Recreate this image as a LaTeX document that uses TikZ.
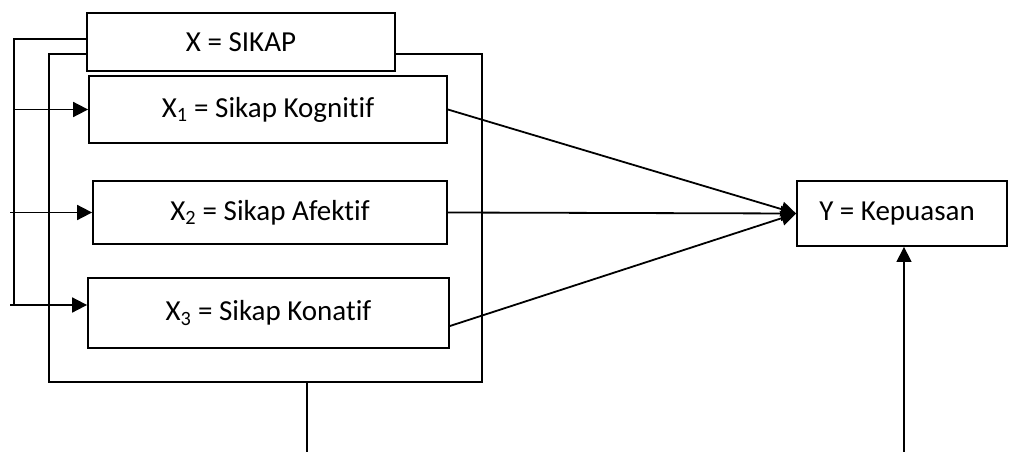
\documentclass[tikz,border=0pt]{standalone}
\usepackage{fontspec}
\setmainfont{Carlito}[RawFeature={-liga}]
\usetikzlibrary{arrows.meta,calc}
\begin{document}
\begin{tikzpicture}[x=1pt,y=-1pt,
  box/.style={draw=black,line width=1.8pt,rectangle,inner sep=0pt,anchor=center,
    font=\fontsize{29}{33}\selectfont},
  conn/.style={line width=1.8pt},
  thin/.style={line width=1.3pt},
  arr/.style={conn,-{Triangle[length=15pt,width=15pt]}},
  arrthin/.style={thin,-{Triangle[length=15pt,width=15pt]}}]
\useasboundingbox (0,0) rectangle (1009,452);
\node[box,minimum width=308pt,minimum height=58pt] (X) at (241,42) {X = SIKAP};
\node[box,minimum width=358pt,minimum height=67pt] (X1) at (268,109.5) {X\textsubscript{1} = Sikap Kognitif};
\node[box,minimum width=354pt,minimum height=63pt] (X2) at (270,212.5) {X\textsubscript{2} = Sikap Afektif};
\node[box,minimum width=361pt,minimum height=70pt] (X3) at (268.5,313) {X\textsubscript{3} = Sikap Konatif};
\node[box,minimum width=210pt,minimum height=65pt] (Y) at (902,213.5) {\hspace*{-10pt}Y = Kepuasan};
% outer frame
\coordinate (fl) at (49,54);
\coordinate (fr) at (482,54);
\coordinate (fbl) at (49,382);
\coordinate (fbr) at (482,382);
\coordinate (fb) at (307,382);
\coordinate (fbend) at (307,452);
\draw[conn] (X.west |- fl) -- (fl) -- (fbl) -- (fbr) -- (fr) -- (X.east |- fr);
\draw[thin] (fb) -- (fbend);
% left feedback line
\coordinate (l1) at (14,39);
\coordinate (l2) at (14,305);
\coordinate (s2) at (10,212.5);
\coordinate (s3) at (10,305);
\draw[conn] (X.west |- l1) -- (l1) -- (l2);
\draw[arr] (l1 |- X1.west) -- (X1.west);
\draw[arr] (s2) -- (X2.west);
\draw[arr] (s3) -- (X3.west |- s3);
% to Y
\coordinate (x3o) at ($(X3.east)+(0,13)$);
\draw[arr] (X1.east) -- (Y.west);
\draw[arr] (X2.east) -- (Y.west);
\draw[arr] (x3o) -- (Y.west);
\coordinate (yb) at (904,452);
\draw[arrthin] (yb) -- (yb |- Y.south);
\end{tikzpicture}
\end{document}
